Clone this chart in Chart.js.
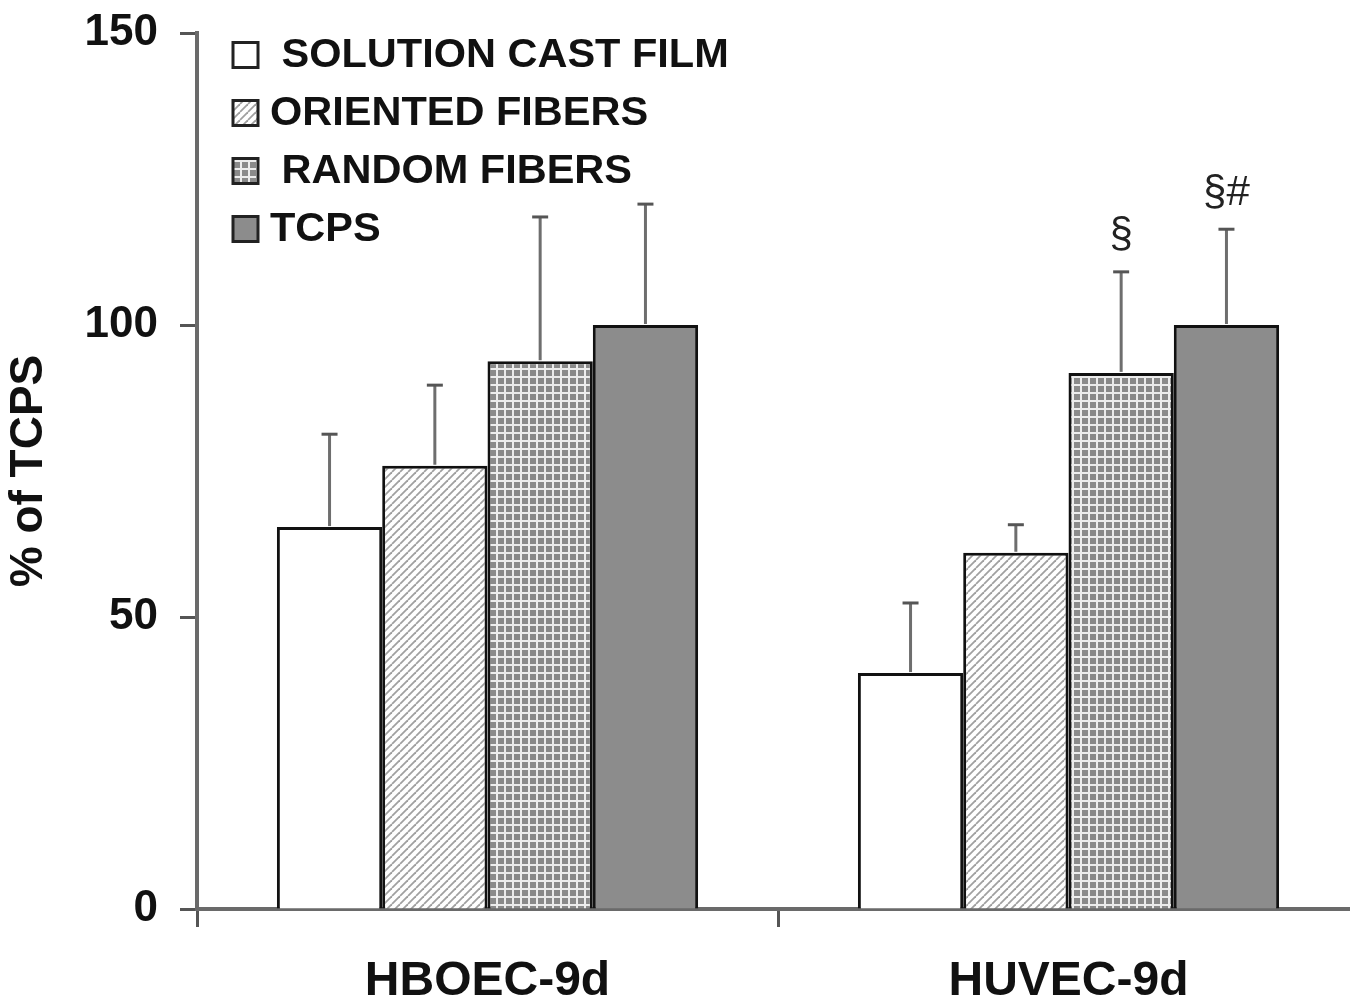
<!DOCTYPE html>
<html><head><meta charset="utf-8">
<script src="https://cdn.jsdelivr.net/npm/chart.js@4.4.1/dist/chart.umd.min.js"></script>
<style>html,body{margin:0;padding:0;background:#fff;overflow:hidden;width:1350px;height:1002px}
#wrap{width:1362px;height:1002px;position:relative}
canvas{display:block}</style></head>
<body><div id="wrap"><canvas id="c" width="1362" height="1002"></canvas></div>
<script>
// ---- data ----
const categories = ['HBOEC-9d', 'HUVEC-9d'];
const seriesLabels = ['SOLUTION CAST FILM', 'ORIENTED FIBERS', 'RANDOM FIBERS', 'TCPS'];
const legendLabels = [' SOLUTION CAST FILM', 'ORIENTED FIBERS', ' RANDOM FIBERS', 'TCPS'];
const solutionCastFilm = [65.4, 40.4];
const orientedFibers = [75.9, 61.0];
const randomFibers = [93.8, 91.8];
const tcps = [100, 100];
const solutionCastFilmErr = [15.9, 12.0];
const orientedFibersErr = [13.8, 4.8];
const randomFibersErr = [24.7, 17.3];
const tcpsErr = [20.7, 16.4];
const solutionCastFilmMarks = ['', ''];
const orientedFibersMarks = ['', ''];
const randomFibersMarks = ['', '§'];
const tcpsMarks = ['', '§#'];
const yTicks = [0, 50, 100, 150];

const FONT = '"Liberation Sans", Arial, Helvetica, sans-serif';

// ---- patterns ----
function makePattern(draw, w, h) {
  const c = document.createElement('canvas');
  c.width = w; c.height = h;
  const g = c.getContext('2d');
  draw(g, w, h);
  return document.getElementById('c').getContext('2d').createPattern(c, 'repeat');
}
const whiteFill = '#ffffff';
const hatchFill = makePattern((g, w, h) => {
  g.fillStyle = '#ffffff'; g.fillRect(0, 0, w, h);
  g.strokeStyle = '#a0a0a0'; g.lineWidth = 1.8;
  for (let k = -1; k <= 1; k++) {
    g.beginPath(); g.moveTo(k * w, h); g.lineTo(k * w + w, 0); g.stroke();
  }
}, 8, 8);
const gridFill = makePattern((g, w, h) => {
  g.fillStyle = '#8a8a8a'; g.fillRect(0, 0, w, h);
  g.fillStyle = '#ececec';
  g.fillRect(0, 0, w, 2);
  g.fillRect(0, 0, 2, h);
}, 8, 8);
const solidFill = '#8c8c8c';

const fills = [whiteFill, hatchFill, gridFill, solidFill];
const values = [solutionCastFilm, orientedFibers, randomFibers, tcps];
const errors = [solutionCastFilmErr, orientedFibersErr, randomFibersErr, tcpsErr];
const marks = [solutionCastFilmMarks, orientedFibersMarks, randomFibersMarks, tcpsMarks];

const datasets = seriesLabels.map((lab, i) => ({
  label: lab,
  data: values[i],
  backgroundColor: fills[i],
  borderColor: '#111',
  borderWidth: 3,
  borderSkipped: 'bottom',
  categoryPercentage: 0.725,
  barPercentage: 1.0
}));

const errorPlugin = {
  id: 'errs',
  afterDatasetsDraw(chart) {
    const ctx = chart.ctx, y = chart.scales.y;
    ctx.save();
    datasets.forEach((ds, di) => {
      const meta = chart.getDatasetMeta(di);
      meta.data.forEach((bar, j) => {
        const top = y.getPixelForValue(values[di][j] + errors[di][j]);
        const base = y.getPixelForValue(values[di][j]);
        ctx.strokeStyle = '#6e6e6e';
        ctx.lineWidth = 3;
        ctx.beginPath(); ctx.moveTo(bar.x, base - 1); ctx.lineTo(bar.x, top); ctx.stroke();
        ctx.strokeStyle = '#555';
        ctx.beginPath(); ctx.moveTo(bar.x - 8, top); ctx.lineTo(bar.x + 8, top); ctx.stroke();
        const m = marks[di][j];
        if (m) {
          ctx.fillStyle = '#222';
          ctx.font = '42px ' + FONT;
          ctx.textAlign = 'center';
          ctx.textBaseline = 'middle';
          ctx.fillText(m, bar.x, top - 36);
        }
      });
    });
    ctx.restore();
  }
};

const legendPlugin = {
  id: 'customLegend',
  afterDraw(chart) {
    const ctx = chart.ctx, a = chart.chartArea;
    ctx.save();
    legendLabels.forEach((lab, i) => {
      const cy = a.top + 22 + i * 58;
      const bx = a.left + 36, bs = 25;
      ctx.fillStyle = fills[i];
      ctx.fillRect(bx, cy - bs / 2, bs, bs);
      ctx.strokeStyle = '#222'; ctx.lineWidth = 3;
      ctx.strokeRect(bx, cy - bs / 2, bs, bs);
      ctx.fillStyle = '#111';
      ctx.font = 'bold 41.5px ' + FONT;
      ctx.textAlign = 'left';
      ctx.textBaseline = 'middle';
      ctx.fillText(lab, a.left + 73, cy + 1);
    });
    ctx.restore();
  }
};

new Chart(document.getElementById('c'), {
  type: 'bar',
  data: { labels: categories, datasets },
  options: {
    responsive: false,
    animation: false,
    devicePixelRatio: 1,
    layout: { padding: { top: 33, right: 3, left: 0, bottom: 0 } },
    plugins: { legend: { display: false }, tooltip: { enabled: false } },
    scales: {
      x: {
        grid: { drawOnChartArea: false, offset: true, tickLength: 18, tickColor: '#555', tickWidth: 3 },
        border: { color: '#6a6a6a', width: 4 },
        ticks: { color: '#111', font: { family: FONT, size: 48, weight: 'bold' }, padding: 26 },
        afterFit(s) { s.height = 93; s.paddingLeft = 0; s.paddingRight = 0; }
      },
      y: {
        min: 0, max: 150,
        afterBuildTicks(s) { s.ticks = yTicks.map(v => ({ value: v })); },
        grid: { drawOnChartArea: false, tickLength: 17, tickColor: '#555', tickWidth: 3 },
        border: { color: '#6a6a6a', width: 4 },
        ticks: { color: '#111', font: { family: FONT, size: 44, weight: 'bold' }, padding: 22 },
        title: { display: true, text: '% of TCPS', color: '#111', font: { family: FONT, size: 46, weight: 'bold' }, padding: { top: 2, bottom: 0 } },
        afterFit(s) { s.width = 197; s.paddingTop = 0; s.paddingBottom = 0; }
      }
    }
  },
  plugins: [errorPlugin, legendPlugin]
});
</script></body></html>
